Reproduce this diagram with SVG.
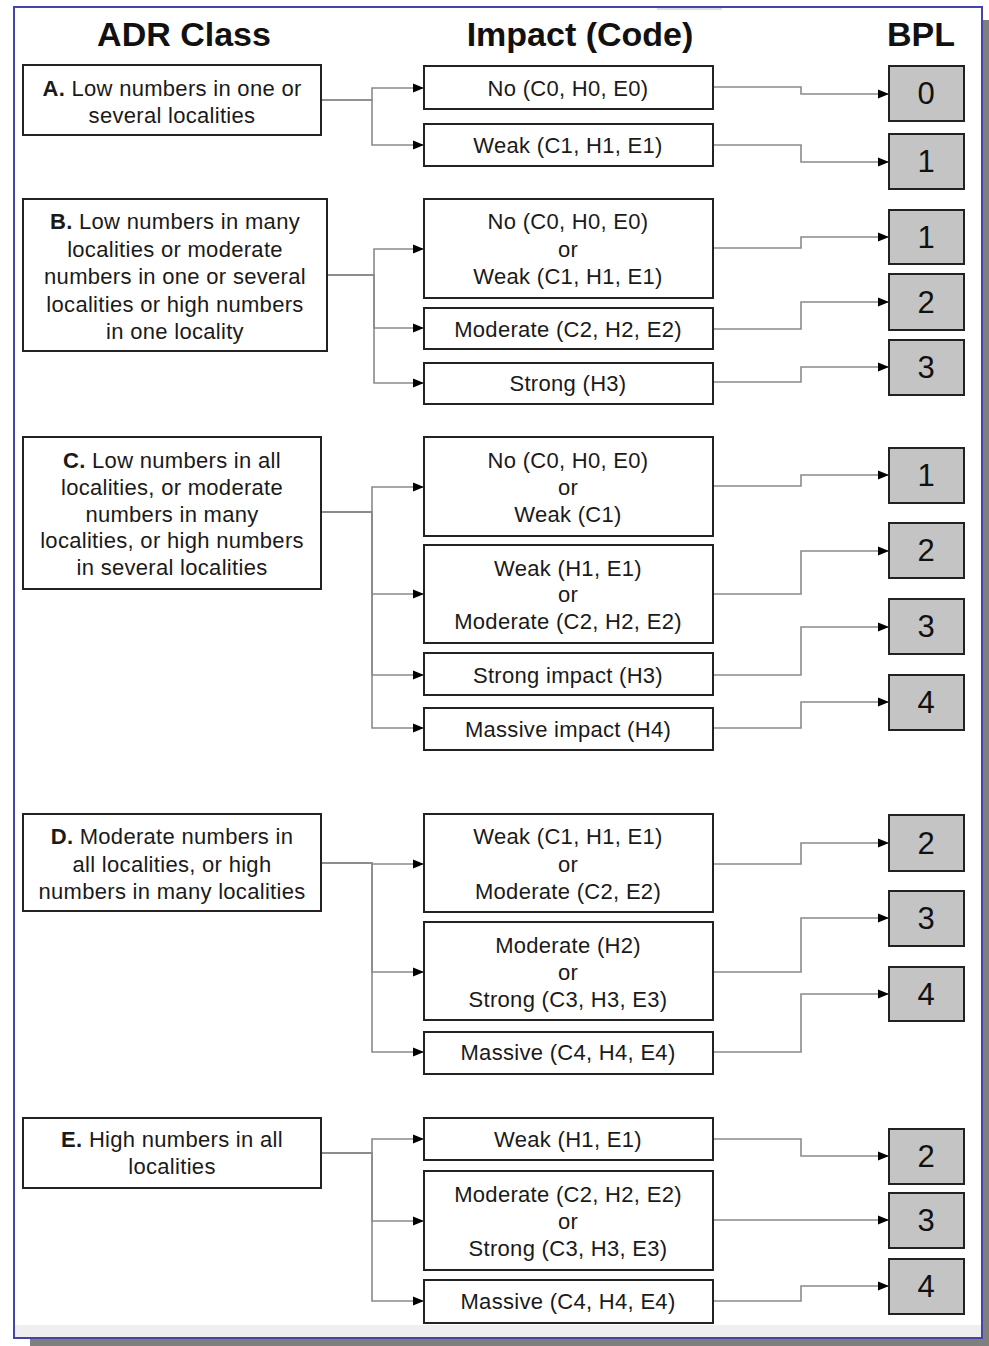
<svg xmlns="http://www.w3.org/2000/svg" width="989" height="1346" viewBox="0 0 989 1346">
<style>
.box{fill:#fff;stroke:#222;stroke-width:2}
.bpl{fill:#c4c4c4;stroke:#222;stroke-width:2}
.t{font-family:"Liberation Sans",Arial,sans-serif;font-size:22px;letter-spacing:0.3px;fill:#1a1a1a;text-anchor:middle}
.h{font-family:"Liberation Sans",Arial,sans-serif;font-size:34px;font-weight:bold;fill:#111;text-anchor:middle}
.n{font-family:"Liberation Sans",Arial,sans-serif;font-size:31px;fill:#111;text-anchor:middle}
.c{fill:none;stroke:#8a8a8a;stroke-width:1.6}
</style>
<defs>
<marker id="ar" markerUnits="userSpaceOnUse" markerWidth="12" markerHeight="10" refX="11" refY="5" orient="auto"><path d="M0,0.5 L11,5 L0,9.5 z" fill="#000"/></marker>
</defs>
<rect x="0" y="0" width="989" height="1346" fill="#fff"/>
<rect x="30" y="1338" width="959" height="8" fill="#7f7f7f"/>
<rect x="982" y="20" width="7" height="1326" fill="#7f7f7f"/>
<rect x="15" y="1325" width="967" height="12" fill="#efefef"/>
<rect x="657" y="8" width="65" height="2" fill="#ddd"/>
<rect x="14" y="7" width="968" height="1331" fill="none" stroke="#4444aa" stroke-width="2"/>

<g id="headers">
<text class="h" x="184" y="46">ADR Class</text>
<text class="h" x="580" y="46">Impact (Code)</text>
<text class="h" x="921" y="46">BPL</text>
</g>

<g id="connectors">
<path class="c" d="M321,100 H372 V88 H424" marker-end="url(#ar)"/>
<path class="c" d="M321,100 H372 V145 H424" marker-end="url(#ar)"/>
<path class="c" d="M327,275 H374 V249 H424" marker-end="url(#ar)"/>
<path class="c" d="M327,275 H374 V328 H424" marker-end="url(#ar)"/>
<path class="c" d="M327,275 H374 V383 H424" marker-end="url(#ar)"/>
<path class="c" d="M321,512 H372 V487 H424" marker-end="url(#ar)"/>
<path class="c" d="M321,512 H372 V594 H424" marker-end="url(#ar)"/>
<path class="c" d="M321,512 H372 V675 H424" marker-end="url(#ar)"/>
<path class="c" d="M321,512 H372 V728 H424" marker-end="url(#ar)"/>
<path class="c" d="M321,863 H372 V864 H424" marker-end="url(#ar)"/>
<path class="c" d="M321,863 H372 V972 H424" marker-end="url(#ar)"/>
<path class="c" d="M321,863 H372 V1052 H424" marker-end="url(#ar)"/>
<path class="c" d="M321,1153 H372 V1139 H424" marker-end="url(#ar)"/>
<path class="c" d="M321,1153 H372 V1221 H424" marker-end="url(#ar)"/>
<path class="c" d="M321,1153 H372 V1301 H424" marker-end="url(#ar)"/>

<path class="c" d="M713,87 H801 V94 H889" marker-end="url(#ar)"/>
<path class="c" d="M713,145 H801 V162 H889" marker-end="url(#ar)"/>
<path class="c" d="M713,248 H801 V237 H889" marker-end="url(#ar)"/>
<path class="c" d="M713,329 H801 V302 H889" marker-end="url(#ar)"/>
<path class="c" d="M713,382 H801 V367 H889" marker-end="url(#ar)"/>
<path class="c" d="M713,486 H801 V475 H889" marker-end="url(#ar)"/>
<path class="c" d="M713,594 H801 V551 H889" marker-end="url(#ar)"/>
<path class="c" d="M713,675 H801 V627 H889" marker-end="url(#ar)"/>
<path class="c" d="M713,728 H801 V702 H889" marker-end="url(#ar)"/>
<path class="c" d="M713,864 H801 V843 H889" marker-end="url(#ar)"/>
<path class="c" d="M713,972 H801 V918 H889" marker-end="url(#ar)"/>
<path class="c" d="M713,1052 H801 V994 H889" marker-end="url(#ar)"/>
<path class="c" d="M713,1139 H801 V1156 H889" marker-end="url(#ar)"/>
<path class="c" d="M713,1220 H801 V1220 H889" marker-end="url(#ar)"/>
<path class="c" d="M713,1301 H801 V1286 H889" marker-end="url(#ar)"/>
</g>

<g id="classA"><rect class="box" x="23" y="65" width="298" height="70"/>
<text class="t" x="172" y="96"><tspan font-weight="bold">A.</tspan> Low numbers in one or</text>
<text class="t" x="172" y="123">several localities</text></g>
<g id="classB"><rect class="box" x="23" y="199" width="304" height="152"/>
<text class="t" x="175" y="229"><tspan font-weight="bold">B.</tspan> Low numbers in many</text>
<text class="t" x="175" y="257">localities or moderate</text>
<text class="t" x="175" y="284">numbers in one or several</text>
<text class="t" x="175" y="312">localities or high numbers</text>
<text class="t" x="175" y="339">in one locality</text></g>
<g id="classC"><rect class="box" x="23" y="437" width="298" height="152"/>
<text class="t" x="172" y="468"><tspan font-weight="bold">C.</tspan> Low numbers in all</text>
<text class="t" x="172" y="495">localities, or moderate</text>
<text class="t" x="172" y="522">numbers in many</text>
<text class="t" x="172" y="548">localities, or high numbers</text>
<text class="t" x="172" y="575">in several localities</text></g>
<g id="classD"><rect class="box" x="23" y="814" width="298" height="97"/>
<text class="t" x="172" y="844"><tspan font-weight="bold">D.</tspan> Moderate numbers in</text>
<text class="t" x="172" y="872">all localities, or high</text>
<text class="t" x="172" y="899">numbers in many localities</text></g>
<g id="classE"><rect class="box" x="23" y="1118" width="298" height="70"/>
<text class="t" x="172" y="1147"><tspan font-weight="bold">E.</tspan> High numbers in all</text>
<text class="t" x="172" y="1174">localities</text></g>

<g id="impA1"><rect class="box" x="424" y="66" width="289" height="43"/><text class="t" x="568" y="96">No (C0, H0, E0)</text></g>
<g id="impA2"><rect class="box" x="424" y="124" width="289" height="42"/><text class="t" x="568" y="153">Weak (C1, H1, E1)</text></g>
<g id="impB1"><rect class="box" x="424" y="199" width="289" height="99"/><text class="t" x="568" y="229">No (C0, H0, E0)</text><text class="t" x="568" y="257">or</text><text class="t" x="568" y="284">Weak (C1, H1, E1)</text></g>
<g id="impB2"><rect class="box" x="424" y="308" width="289" height="41"/><text class="t" x="568" y="337">Moderate (C2, H2, E2)</text></g>
<g id="impB3"><rect class="box" x="424" y="363" width="289" height="41"/><text class="t" x="568" y="391">Strong (H3)</text></g>
<g id="impC1"><rect class="box" x="424" y="437" width="289" height="99"/><text class="t" x="568" y="468">No (C0, H0, E0)</text><text class="t" x="568" y="495">or</text><text class="t" x="568" y="522">Weak (C1)</text></g>
<g id="impC2"><rect class="box" x="424" y="545" width="289" height="98"/><text class="t" x="568" y="576">Weak (H1, E1)</text><text class="t" x="568" y="602">or</text><text class="t" x="568" y="629">Moderate (C2, H2, E2)</text></g>
<g id="impC3"><rect class="box" x="424" y="653" width="289" height="42"/><text class="t" x="568" y="683">Strong impact (H3)</text></g>
<g id="impC4"><rect class="box" x="424" y="708" width="289" height="42"/><text class="t" x="568" y="737">Massive impact (H4)</text></g>
<g id="impD1"><rect class="box" x="424" y="814" width="289" height="98"/><text class="t" x="568" y="844">Weak (C1, H1, E1)</text><text class="t" x="568" y="872">or</text><text class="t" x="568" y="899">Moderate (C2, E2)</text></g>
<g id="impD2"><rect class="box" x="424" y="922" width="289" height="98"/><text class="t" x="568" y="953">Moderate (H2)</text><text class="t" x="568" y="980">or</text><text class="t" x="568" y="1007">Strong (C3, H3, E3)</text></g>
<g id="impD3"><rect class="box" x="424" y="1032" width="289" height="42"/><text class="t" x="568" y="1060">Massive (C4, H4, E4)</text></g>
<g id="impE1"><rect class="box" x="424" y="1118" width="289" height="42"/><text class="t" x="568" y="1147">Weak (H1, E1)</text></g>
<g id="impE2"><rect class="box" x="424" y="1171" width="289" height="99"/><text class="t" x="568" y="1202">Moderate (C2, H2, E2)</text><text class="t" x="568" y="1229">or</text><text class="t" x="568" y="1256">Strong (C3, H3, E3)</text></g>
<g id="impE3"><rect class="box" x="424" y="1280" width="289" height="43"/><text class="t" x="568" y="1309">Massive (C4, H4, E4)</text></g>

<g id="bplA0"><rect class="bpl" x="889" y="66" width="75" height="55"/><text class="n" x="926" y="104">0</text></g>
<g id="bplA1"><rect class="bpl" x="889" y="134" width="75" height="55"/><text class="n" x="926" y="172">1</text></g>
<g id="bplB1"><rect class="bpl" x="889" y="210" width="75" height="54"/><text class="n" x="926" y="248">1</text></g>
<g id="bplB2"><rect class="bpl" x="889" y="274" width="75" height="56"/><text class="n" x="926" y="313">2</text></g>
<g id="bplB3"><rect class="bpl" x="889" y="340" width="75" height="55"/><text class="n" x="926" y="378">3</text></g>
<g id="bplC1"><rect class="bpl" x="889" y="448" width="75" height="55"/><text class="n" x="926" y="486">1</text></g>
<g id="bplC2"><rect class="bpl" x="889" y="523" width="75" height="55"/><text class="n" x="926" y="561">2</text></g>
<g id="bplC3"><rect class="bpl" x="889" y="599" width="75" height="55"/><text class="n" x="926" y="637">3</text></g>
<g id="bplC4"><rect class="bpl" x="889" y="675" width="75" height="55"/><text class="n" x="926" y="713">4</text></g>
<g id="bplD2"><rect class="bpl" x="889" y="815" width="75" height="56"/><text class="n" x="926" y="854">2</text></g>
<g id="bplD3"><rect class="bpl" x="889" y="891" width="75" height="55"/><text class="n" x="926" y="929">3</text></g>
<g id="bplD4"><rect class="bpl" x="889" y="967" width="75" height="54"/><text class="n" x="926" y="1005">4</text></g>
<g id="bplE2"><rect class="bpl" x="889" y="1129" width="75" height="55"/><text class="n" x="926" y="1167">2</text></g>
<g id="bplE3"><rect class="bpl" x="889" y="1193" width="75" height="55"/><text class="n" x="926" y="1231">3</text></g>
<g id="bplE4"><rect class="bpl" x="889" y="1259" width="75" height="55"/><text class="n" x="926" y="1297">4</text></g>
</svg>
